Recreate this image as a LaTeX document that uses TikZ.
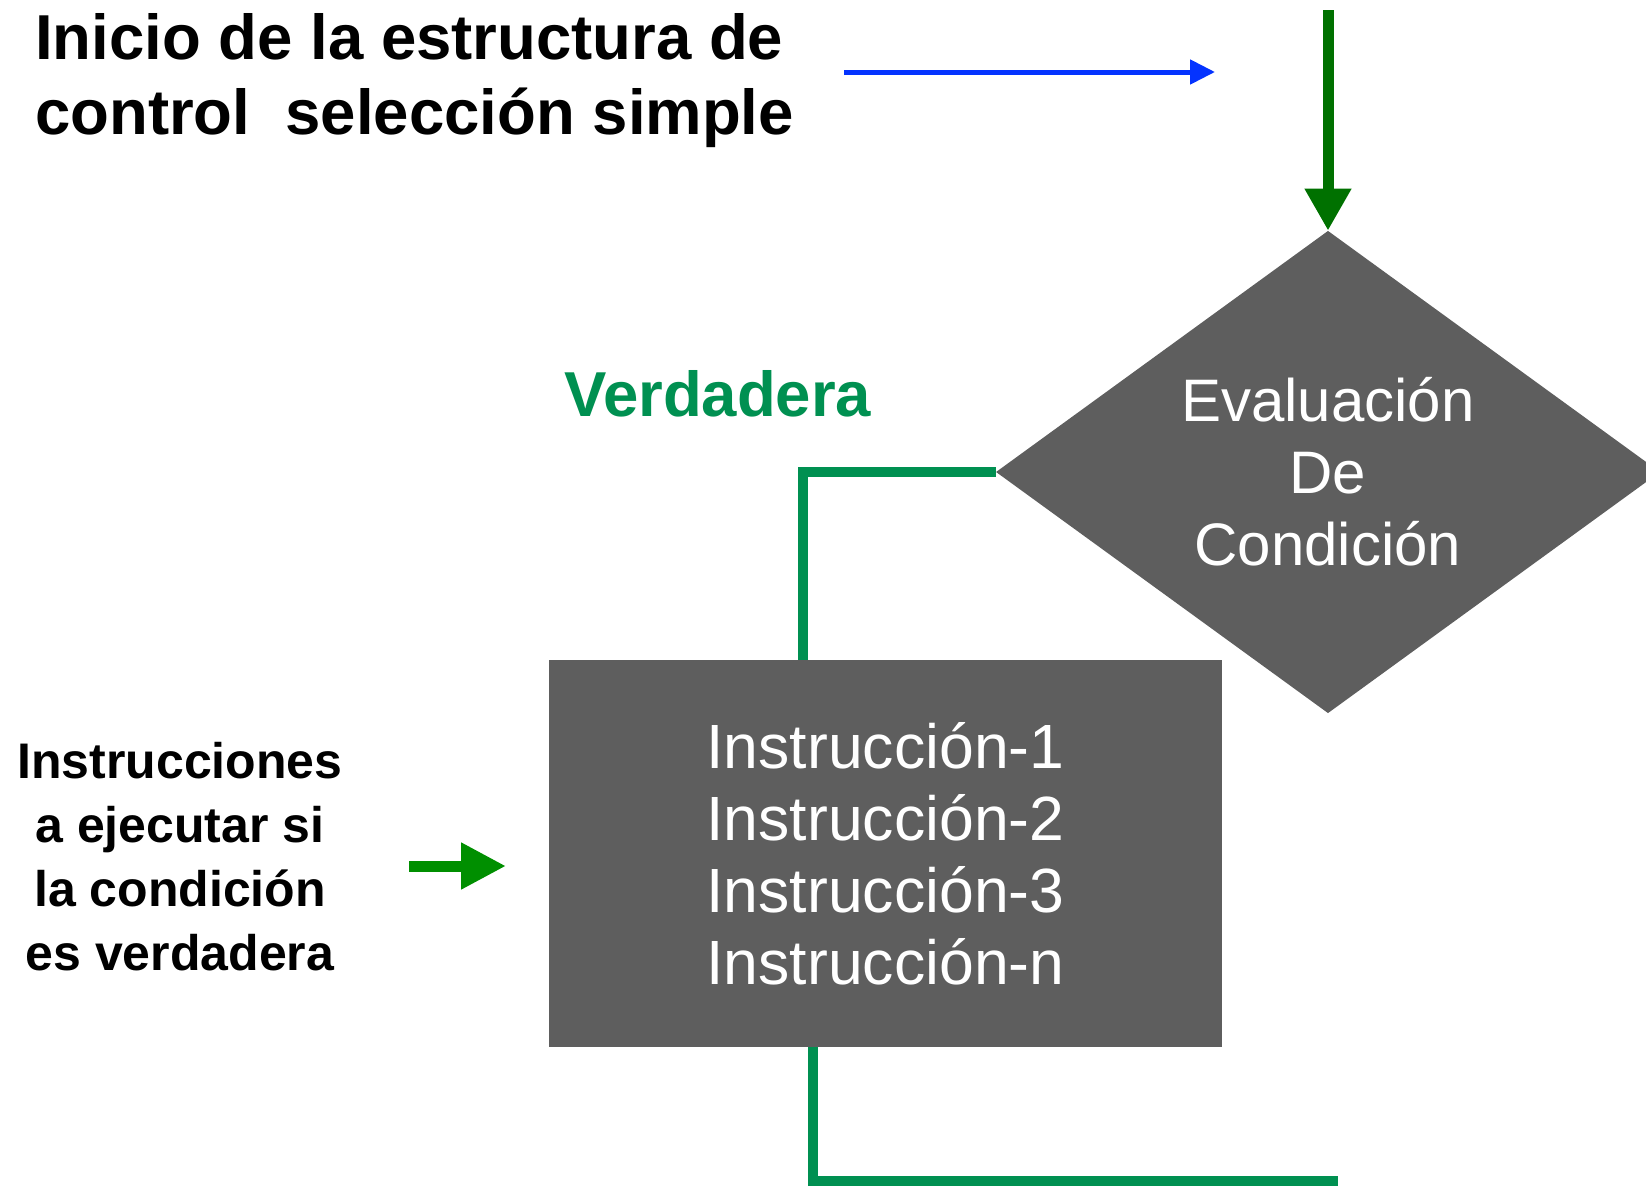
\documentclass[tikz,border=0pt]{standalone}
\usepackage{fontspec}
\setmainfont{Liberation Sans}
\usetikzlibrary{shapes.geometric,arrows.meta}
\definecolor{boxgray}{HTML}{5E5E5E}
\definecolor{topgreen}{HTML}{007100}
\definecolor{arrgreen}{HTML}{008F00}
\definecolor{linegreen}{HTML}{009051}
\definecolor{arrblue}{HTML}{0433FF}
\tikzset{
  graybox/.style={draw=none,fill=boxgray,text=white,inner sep=0pt},
  conn/.style={draw=linegreen,line width=10.5pt,line join=miter},
  bigtext/.style={font=\fontsize{63.5}{75}\selectfont\bfseries},
}
\begin{document}
\begin{tikzpicture}[x=1pt,y=-1pt]
\useasboundingbox (0,0) rectangle (1646,1186);
% title (base anchor = baseline of last line)
\node[bigtext,anchor=base west,align=left,inner sep=0pt] (title) at (35,134)
  {Inicio de la estructura de\\control\ \ selección simple};
% verdadera
\node[anchor=base west,inner sep=0pt,text=linegreen,font=\fontsize{63.5}{72}\selectfont\bfseries] (verd) at (564,416) {Verdadera};
% diamond
\node[graybox,diamond,minimum width=664pt,minimum height=482pt,align=center,
      font=\fontsize{60}{72}\selectfont] (dia) at (1328,472)
  {Evaluación\\De\\Condición};
% box
\node[graybox,rectangle,minimum width=673pt,minimum height=387pt,align=left,
      font=\fontsize{62.5}{72}\selectfont] (box) at (885.5,853.5)
  {Instrucción-1\\Instrucción-2\\Instrucción-3\\Instrucción-n};
% left label
\node[anchor=base,align=center,inner sep=0pt,font=\fontsize{50}{64}\selectfont\bfseries] (lbl) at (180,970)
  {Instrucciones\\a ejecutar si\\la condición\\es verdadera};
% coordinates
\coordinate (topstart) at (1328,10);
\coordinate (b1) at (844,72);
\coordinate (b2) at (1215,72);
\coordinate (g1) at (409,866);
\coordinate (g2) at (506,866);
\coordinate (endc) at (1338,1181);
% connectors
\draw[draw=topgreen,line width=11pt,-{Triangle[width=44pt,length=42pt]}] (topstart) -- (dia.north);
\draw[draw=arrblue,line width=5pt,-{Triangle[width=24pt,length=25pt]}] (b1) -- (b2);
\draw[draw=arrgreen,line width=11pt,-{Triangle[width=44pt,length=45pt]}] (g1) -- (g2);
\draw[conn] (dia.west) -| ([xshift=-82.5pt]box.north);
\draw[conn] ([xshift=-72.5pt]box.south) |- (endc);
\end{tikzpicture}
\end{document}
